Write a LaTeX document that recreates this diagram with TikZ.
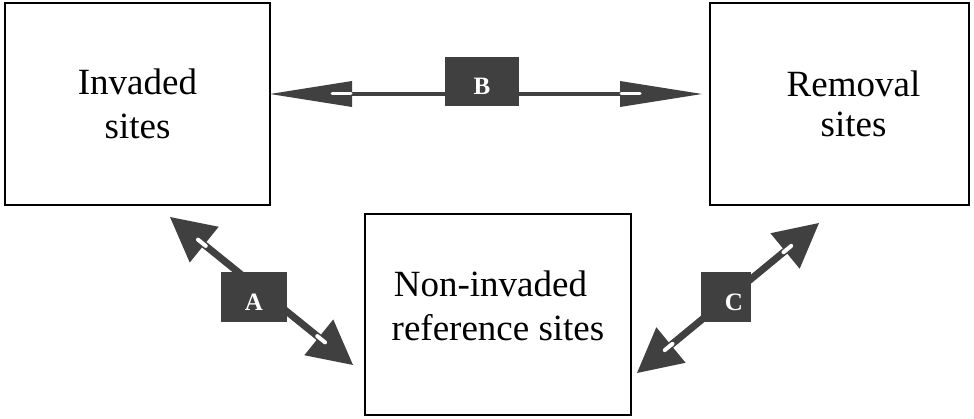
\documentclass[tikz,border=0pt]{standalone}
\usepackage{fontspec}
\setmainfont{Liberation Serif}
\newfontfamily\timesfont{Liberation Serif}
\usetikzlibrary{calc}
\definecolor{arrowgray}{HTML}{404040}
\tikzset{
  site/.style={draw=black, line width=1.8pt, fill=white, align=center, inner sep=0pt,
    font=\timesfont\fontsize{37}{44}\selectfont},
  tag/.style={fill=arrowgray, inner sep=0pt, text=white,
    font=\timesfont\fontsize{25}{30}\selectfont\bfseries},
  shaft/.style={draw=arrowgray},
  headfill/.style={fill=arrowgray},
  gapline/.style={draw=white, line cap=round},
}
% #1 tip1, #2 tip2, #3 head length, #4 half width, #5 shaft width,
% #6 dash start, #7 dash end (from tip), #8 dash width
\newcommand{\dblarrow}[8]{%
  \coordinate (#1-b) at ($(#1)!#3!(#2)$);
  \coordinate (#2-b) at ($(#2)!#3!(#1)$);
  \draw[shaft, line width=#5] (#1-b) -- (#2-b);
  \fill[headfill] (#1) -- ($(#1-b)!#4!90:(#1)$) -- ($(#1-b)!#4!-90:(#1)$) -- cycle;
  \fill[headfill] (#2) -- ($(#2-b)!#4!90:(#2)$) -- ($(#2-b)!#4!-90:(#2)$) -- cycle;
  \draw[gapline, line width=#8] ($(#1)!#6!(#2)$) -- ($(#1)!#7!(#2)$);
  \draw[gapline, line width=#8] ($(#2)!#6!(#1)$) -- ($(#2)!#7!(#1)$);
}
\begin{document}
\begin{tikzpicture}[x=1pt,y=-1pt]
\useasboundingbox (0,0) rectangle (974,419);
\node[site, minimum width=265pt, minimum height=202pt] (inv) at (137.5,104) {Invaded\\sites};
\node[site, minimum width=259pt, minimum height=202pt, font=\timesfont\fontsize{37}{40}\selectfont] (rem) at (839.5,104) {\hspace*{28pt}Removal\\\hspace*{28pt}sites};
\node[site, minimum width=266pt, minimum height=201pt] (ref) at (498,314.5) {Non-invaded\hspace*{15pt}\\reference sites\rule[-17pt]{0pt}{17pt}};

\coordinate (bL) at (270,94);
\coordinate (bR) at (702,94);
\dblarrow{bL}{bR}{82pt}{13pt}{4.5pt}{62pt}{81pt}{3pt}
\coordinate (aT) at (170,217);
\coordinate (aB) at (353,365);
\dblarrow{aT}{aB}{44pt}{23pt}{7pt}{36pt}{46pt}{4pt}
\coordinate (cT) at (819,223);
\coordinate (cB) at (637,373);
\dblarrow{cT}{cB}{44pt}{23pt}{7pt}{36pt}{46pt}{4pt}

\node[tag, minimum width=74pt, minimum height=49pt, text height=37.5pt, text depth=11.5pt] (B) at (482,81.5) {B};
\node[tag, minimum width=66pt, minimum height=50pt, text height=38.5pt, text depth=11.5pt] (A) at (254,297) {A};
\node[tag, minimum width=50pt, minimum height=50pt, text height=38.5pt, text depth=11.5pt, text width=34pt, align=right] (C) at (726,297) {C};
\end{tikzpicture}
\end{document}
